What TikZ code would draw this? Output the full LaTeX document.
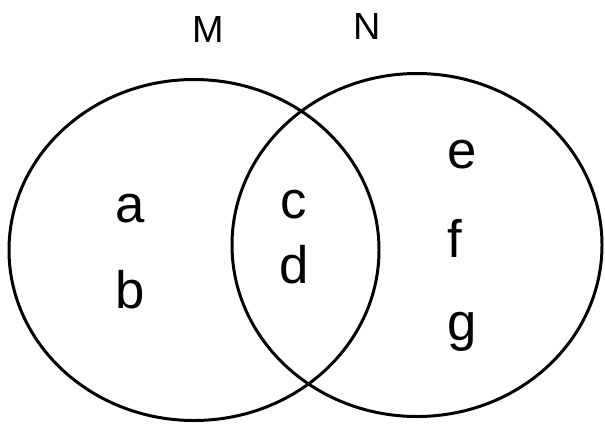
\documentclass[tikz,border=0pt]{standalone}
\usepackage{fontspec}
\setmainfont{Liberation Sans}
\usepackage{tikz}

\tikzset{
	setline/.style={line width=1.7pt, color=black},
	elem/.style={anchor=base, font=\fontsize{30}{36}\selectfont, inner sep=0pt},
	setname/.style={anchor=base, font=\fontsize{21.5}{26}\selectfont, inner sep=0pt}
}

\begin{document}
\begin{tikzpicture}[x=0.02cm, y=-0.02cm]
			%%%%% START %%%%%
			
			\useasboundingbox (0, 0) rectangle (605, 424);
			
			\draw[setline] (194, 250) ellipse (185 and 170.5);
			\draw[setline] (417, 245) ellipse (185 and 171.5);
			
			\node[setname] (M) at (208, 42) {M};
			\node[setname] (N) at (367, 39) {N};
			
			\node[elem] (a) at (130, 222) {a};
			\node[elem] (b) at (130, 308) {b};
			
			\node[elem] (c) at (294, 218) {c};
			\node[elem] (d) at (294, 283) {d};
			
			\node[elem] (e) at (462, 168) {e};
			\node[elem] (f) at (455, 257) {f};
			\node[elem] (g) at (462, 340) {g};
			
			%%%%% END %%%%%
		\end{tikzpicture}
\end{document}
